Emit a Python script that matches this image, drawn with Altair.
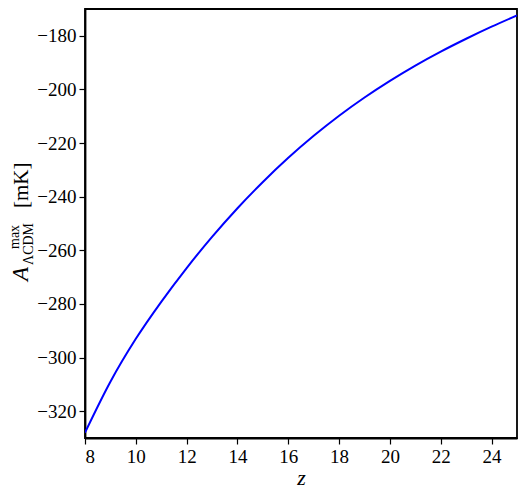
import altair as alt
import pandas as pd

z_vals = [8, 9, 10, 11, 12, 13, 14, 15, 16, 17, 18, 19, 20, 21, 22, 23, 24, 25]
a_vals = [-328.0, -309.0, -293.0, -279.2, -266.6, -255.0, -244.3, -234.5, -225.5,
          -217.3, -209.8, -203.0, -196.8, -191.1, -185.9, -181.1, -176.6, -172.4]
x_ticks = [8, 10, 12, 14, 16, 18, 20, 22, 24]
y_ticks = [-320, -300, -280, -260, -240, -220, -200, -180]

df = pd.DataFrame({"z": z_vals, "A": a_vals})

FONT = "Liberation Serif"

line = alt.Chart(df).mark_line(color="#0000ff", strokeWidth=2, interpolate="monotone", clip=True).encode(
    x=alt.X("z:Q", scale=alt.Scale(domain=[8, 25], nice=False, zero=False),
            axis=alt.Axis(values=x_ticks, title="z", titleFontStyle="italic",
                          titleFontWeight="normal", titleFontSize=22, titlePadding=1)),
    y=alt.Y("A:Q", scale=alt.Scale(domain=[-330, -170], nice=False, zero=False),
            axis=alt.Axis(values=y_ticks, title=None)),
)

def label(txt, x, y, size, style="normal"):
    return alt.Chart(alt.Data(values=[{}])).mark_text(
        angle=270, align="left", baseline="alphabetic", font=FONT,
        fontSize=size, fontStyle=style, color="black"
    ).encode(x=alt.value(x), y=alt.value(y), text=alt.value(txt))

chart = alt.layer(
    line,
    label("A", -57, 272, 23, "italic"),
    label("max", -66, 240, 14),
    label("ΛCDM", -52, 256, 14),
    label("[mK]", -57, 199, 21),
).properties(
    width=432, height=429,
    autosize=alt.AutoSizeParams(type="none"),
    padding={"left": 77, "top": 1, "right": 1, "bottom": 50},
).configure_view(
    stroke="black", strokeWidth=1.8
).configure_axis(
    grid=False, domainColor="black", domainWidth=1.8, tickColor="black",
    tickSize=6, tickWidth=1.2, labelFont=FONT, labelFontSize=19, labelColor="black",
    titleFont=FONT, titleColor="black", labelPadding=3
)

chart.save("out.html", embed_options={"renderer": "svg", "actions": False})
